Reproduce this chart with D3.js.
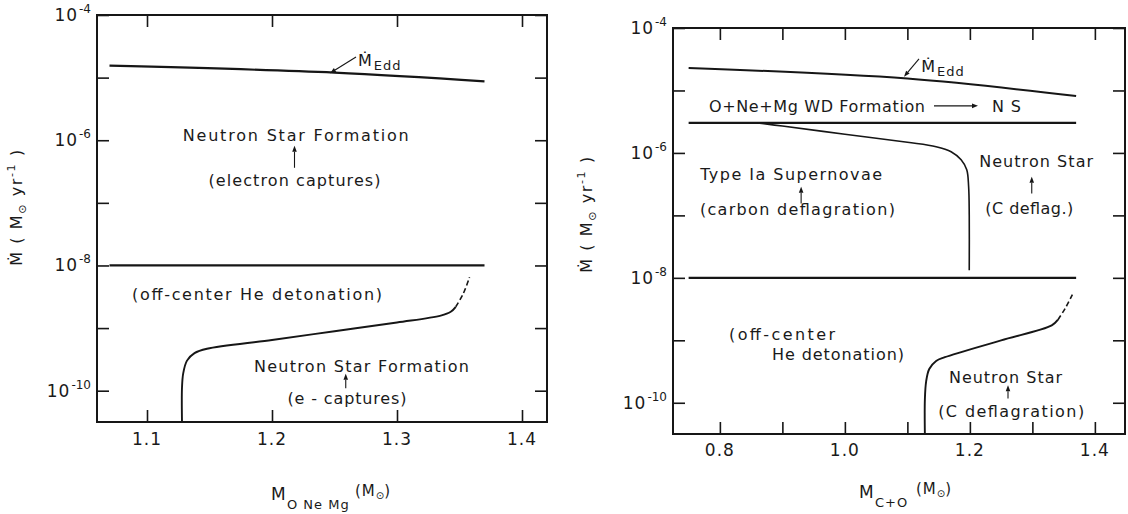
<!DOCTYPE html>
<html>
<head>
<meta charset="utf-8">
<script src="https://cdn.jsdelivr.net/npm/d3@7"></script>
<style>
  html, body { margin: 0; padding: 0; background: #fff; }
  svg { display: block; }
  text { font-family: "DejaVu Sans", sans-serif; fill: #1a1a1a; }
</style>
</head>
<body>
<svg id="chart" width="1128" height="514"></svg>
<script>
// ---------------- data (accretion rate values are log10 of Mdot, Msun/yr) ----------------
const yTickDecades  = [-10, -9, -8, -7, -6, -5, -4];
const yLabelDecades = [-10, -8, -6, -4];

// O+Ne+Mg white dwarf panel
const onemgXTicks  = [1.1, 1.2, 1.3, 1.4];
const onemgXLabels = ["1.1", "1.2", "1.3", "1.4"];
const onemgEddX    = [1.07, 1.25, 1.37];
const onemgEddLog  = [-4.81, -4.92, -5.06];
const onemgHeX     = [1.07, 1.37];
const onemgHeLog   = [-8, -8];
const onemgCapX    = [1.128, 1.128, 1.129, 1.132, 1.138, 1.148, 1.20, 1.25, 1.30, 1.335, 1.343, 1.347];
const onemgCapLog  = [-10.5, -9.95, -9.72, -9.52, -9.40, -9.33, -9.19, -9.05, -8.91, -8.80, -8.74, -8.66];
const onemgDashX   = [1.347, 1.353, 1.358];
const onemgDashLog = [-8.66, -8.45, -8.19];

// C+O white dwarf panel
const coXTicks  = [0.8, 0.9, 1.0, 1.1, 1.2, 1.3, 1.4];
const coXLabelValues = [0.8, 1.0, 1.2, 1.4];
const coXLabels = ["0.8", "1.0", "1.2", "1.4"];
const coEddX    = [0.75, 1.10, 1.37];
const coEddLog  = [-4.64, -4.81, -5.09];
const coWdX     = [0.75, 1.37];
const coWdLog   = [-5.52, -5.52];
const coIaX     = [0.86, 0.90, 1.00, 1.10, 1.146, 1.17, 1.186, 1.195, 1.198, 1.199, 1.199];
const coIaLog   = [-5.52, -5.57, -5.70, -5.83, -5.90, -5.98, -6.11, -6.27, -6.54, -7.0, -7.88];
const coHeX     = [0.75, 1.37];
const coHeLog   = [-8, -8];
const coCapX    = [1.128, 1.128, 1.130, 1.135, 1.146, 1.16, 1.25, 1.331, 1.341];
const coCapLog  = [-10.5, -9.95, -9.66, -9.46, -9.33, -9.27, -9.0, -8.76, -8.67];
const coDashX   = [1.341, 1.353, 1.364];
const coDashLog = [-8.67, -8.48, -8.27];

// ---------------- annotation layout (anchors in data units) ----------------
const onemgNotes = [
  { t: "Neutron Star Formation",     x: 1.219,  y: -6.01,  w: 226 },
  { t: "(electron captures)",        x: 1.218,  y: -6.73,  w: 172 },
  { t: "(off-center He detonation)", x: 1.188,  y: -8.55,  w: 250 },
  { t: "Neutron Star Formation",     x: 1.2716, y: -9.70,  w: 215 },
  { t: "(e - captures)",             x: 1.260,  y: -10.21, w: 119 }
];
const onemgArrows = [
  { from: [1.218, -6.44],   to: [1.218, -6.09] },
  { from: [1.259, -9.96],   to: [1.259, -9.73] },
  { from: [1.2672, -4.671], to: [1.2464, -4.93] }
];
const onemgEddLabel = { x: 1.2688, y: -4.815 };

const coNotes = [
  { t: "O+Ne+Mg WD Formation",  x: 0.9554, y: -5.342, w: 216 },
  { t: "N S",                   x: 1.2586, y: -5.342, w: 29 },
  { t: "Type Ia Supernovae",    x: 0.914,  y: -6.43,  w: 182 },
  { t: "(carbon deflagration)", x: 0.924,  y: -7.0,   w: 195 },
  { t: "Neutron Star",          x: 1.306,  y: -6.22,  w: 114 },
  { t: "(C deflag.)",           x: 1.295,  y: -6.97,  w: 88 },
  { t: "(off-center",           x: 0.8994, y: -9.0,   w: 106 },
  { t: "He detonation)",        x: 0.989,  y: -9.31,  w: 132 },
  { t: "Neutron Star",          x: 1.257,  y: -9.68,  w: 113 },
  { t: "(C deflagration)",      x: 1.266,  y: -10.23, w: 146 }
];
const coArrows = [
  { from: [1.1426, -5.246], to: [1.213, -5.246] },
  { from: [0.930, -6.81],   to: [0.930, -6.54] },
  { from: [1.299, -6.65],   to: [1.299, -6.38] },
  { from: [1.261, -9.93],   to: [1.261, -9.72] },
  { from: [1.1186, -4.495], to: [1.0946, -4.78] }
];
const coEddLabel = { x: 1.122, y: -4.703 };

// ---------------- drawing ----------------
const INK = "#161616";
const svg = d3.select("#chart");
const zip = (xs, ys) => xs.map((v, i) => [v, ys[i]]);

function drawPanel(cfg) {
  const g = svg.append("g");
  const x = d3.scaleLinear().domain(cfg.xDomain).range([cfg.left, cfg.right]);
  const y = d3.scaleLog().domain([Math.pow(10, -10.5), 1e-4]).range([cfg.bottom, cfg.top]);
  const Y = l => y(Math.pow(10, l));

  // inward ticks on all four sides
  const TICK = 12;
  const axis = (gen, tr) => g.append("g").attr("transform", tr).call(gen)
    .call(s => {
      s.select(".domain").remove();
      s.selectAll("text").remove();
      s.selectAll("line").attr("stroke", INK).attr("stroke-width", 1.6);
    });
  const yt = yTickDecades.map(d => Math.pow(10, d));
  axis(d3.axisBottom(x).tickValues(cfg.xTicks).tickSize(-TICK), `translate(0,${cfg.bottom})`);
  axis(d3.axisTop(x).tickValues(cfg.xTicks).tickSize(-TICK), `translate(0,${cfg.top})`);
  axis(d3.axisLeft(y).tickValues(yt).tickSize(-TICK), `translate(${cfg.left},0)`);
  axis(d3.axisRight(y).tickValues(yt).tickSize(-TICK), `translate(${cfg.right},0)`);

  // frame
  g.append("rect")
    .attr("x", cfg.left).attr("y", cfg.top)
    .attr("width", cfg.right - cfg.left).attr("height", cfg.bottom - cfg.top)
    .attr("fill", "none").attr("stroke", INK).attr("stroke-width", 2);

  // x tick labels
  g.selectAll(".xl").data(cfg.xLabelValues).enter().append("text")
    .attr("x", d => x(d)).attr("y", cfg.bottom + cfg.xLabelGap)
    .attr("text-anchor", "middle").attr("font-size", 17).attr("letter-spacing", 1)
    .text((d, i) => cfg.xLabels[i]);

  // y tick labels: 10 with superscript exponent
  yLabelDecades.forEach(d => {
    const t = g.append("text")
      .attr("x", cfg.left - 6).attr("y", Y(d) + 6)
      .attr("text-anchor", "end");
    t.append("tspan").attr("font-size", 17).attr("letter-spacing", 1).text("10");
    t.append("tspan").attr("font-size", 12).attr("dy", -8).attr("dx", 1).text("-" + Math.abs(d));
  });

  // curves
  const line = d3.line().x(d => x(d[0])).y(d => Y(d[1]))
    .curve(d3.curveCatmullRom.alpha(0.5));
  cfg.curves.forEach(c => {
    g.append("path").attr("d", line(c.pts))
      .attr("fill", "none").attr("stroke", INK)
      .attr("stroke-width", c.w || 2)
      .attr("stroke-dasharray", c.dash || null)
      .attr("stroke-linecap", "butt");
  });

  // notes
  cfg.notes.forEach(n => {
    g.append("text").attr("x", x(n.x)).attr("y", Y(n.y))
      .attr("text-anchor", "middle").attr("font-size", 16)
      .attr("textLength", n.w).attr("lengthAdjust", "spacing")
      .text(n.t);
  });

  // arrows
  cfg.arrows.forEach(a => {
    const x1 = x(a.from[0]), y1 = Y(a.from[1]), x2 = x(a.to[0]), y2 = Y(a.to[1]);
    const ang = Math.atan2(y2 - y1, x2 - x1);
    const L = 6, Wd = 2.3;
    const bx = x2 - L * Math.cos(ang), by = y2 - L * Math.sin(ang);
    g.append("line").attr("x1", x1).attr("y1", y1).attr("x2", bx).attr("y2", by)
      .attr("stroke", INK).attr("stroke-width", 1.1);
    const p = [
      [x2, y2],
      [bx + Wd * Math.sin(ang), by - Wd * Math.cos(ang)],
      [bx - Wd * Math.sin(ang), by + Wd * Math.cos(ang)]
    ];
    g.append("path").attr("d", "M" + p.map(q => q.join(",")).join("L") + "Z").attr("fill", INK);
  });

  // Eddington label
  const e = g.append("text").attr("x", x(cfg.edd.x)).attr("y", Y(cfg.edd.y));
  e.append("tspan").attr("font-size", 16).text("\u1E40");
  e.append("tspan").attr("font-size", 13).attr("dy", 4).attr("dx", 2).attr("letter-spacing", 1).text("Edd");

  return { x, y, g };
}

drawPanel({
  left: 97, right: 547, top: 15, bottom: 422,
  xDomain: [1.06, 1.42],
  xTicks: onemgXTicks, xLabelValues: onemgXTicks, xLabels: onemgXLabels, xLabelGap: 23,
  curves: [
    { pts: zip(onemgEddX, onemgEddLog), w: 2.2 },
    { pts: zip(onemgHeX, onemgHeLog), w: 2.2 },
    { pts: zip(onemgCapX, onemgCapLog), w: 1.9 },
    { pts: zip(onemgDashX, onemgDashLog), w: 1.6, dash: "5,3" }
  ],
  notes: onemgNotes, arrows: onemgArrows, edd: onemgEddLabel
});

drawPanel({
  left: 673, right: 1125, top: 28, bottom: 434,
  xDomain: [0.725, 1.4482],
  xTicks: coXTicks, xLabelValues: coXLabelValues, xLabels: coXLabels, xLabelGap: 22,
  curves: [
    { pts: zip(coEddX, coEddLog), w: 2.0 },
    { pts: zip(coWdX, coWdLog), w: 2.2 },
    { pts: zip(coIaX, coIaLog), w: 1.6 },
    { pts: zip(coHeX, coHeLog), w: 2.2 },
    { pts: zip(coCapX, coCapLog), w: 1.9 },
    { pts: zip(coDashX, coDashLog), w: 1.6, dash: "5,3" }
  ],
  notes: coNotes, arrows: coArrows, edd: coEddLabel
});

// axis titles
function xTitle(x0, sub, subX, parenX, base) {
  const t = svg.append("text").attr("x", x0).attr("y", base);
  t.append("tspan").attr("font-size", 17).text("M");
  t.append("tspan").attr("x", subX).attr("y", base + 9).attr("font-size", 13).attr("letter-spacing", 1).text(sub);
  t.append("tspan").attr("x", parenX).attr("y", base - 4).attr("font-size", 15).attr("letter-spacing", 1).text("(M");
  t.append("tspan").attr("font-size", 10).attr("dy", 3).text("\u2299");
  t.append("tspan").attr("font-size", 15).attr("dy", -3).text(")");
}
xTitle(271, "O Ne Mg", 287, 355, 500);
xTitle(859, "C+O", 875, 916, 498);

function yTitle(bx, cy) {
  const t = svg.append("text")
    .attr("transform", `translate(${bx},${cy}) rotate(-90)`)
    .attr("text-anchor", "middle").attr("letter-spacing", 1.6);
  t.append("tspan").attr("font-size", 16).text("\u1E40 ( M");
  t.append("tspan").attr("font-size", 11).attr("dy", 4).text("\u2299");
  t.append("tspan").attr("font-size", 16).attr("dy", -4).text(" yr");
  t.append("tspan").attr("font-size", 11).attr("dy", -7).text("-1");
  t.append("tspan").attr("font-size", 16).attr("dy", 7).text(" )");
}
yTitle(22, 207);
yTitle(592, 214);
</script>
</body>
</html>
